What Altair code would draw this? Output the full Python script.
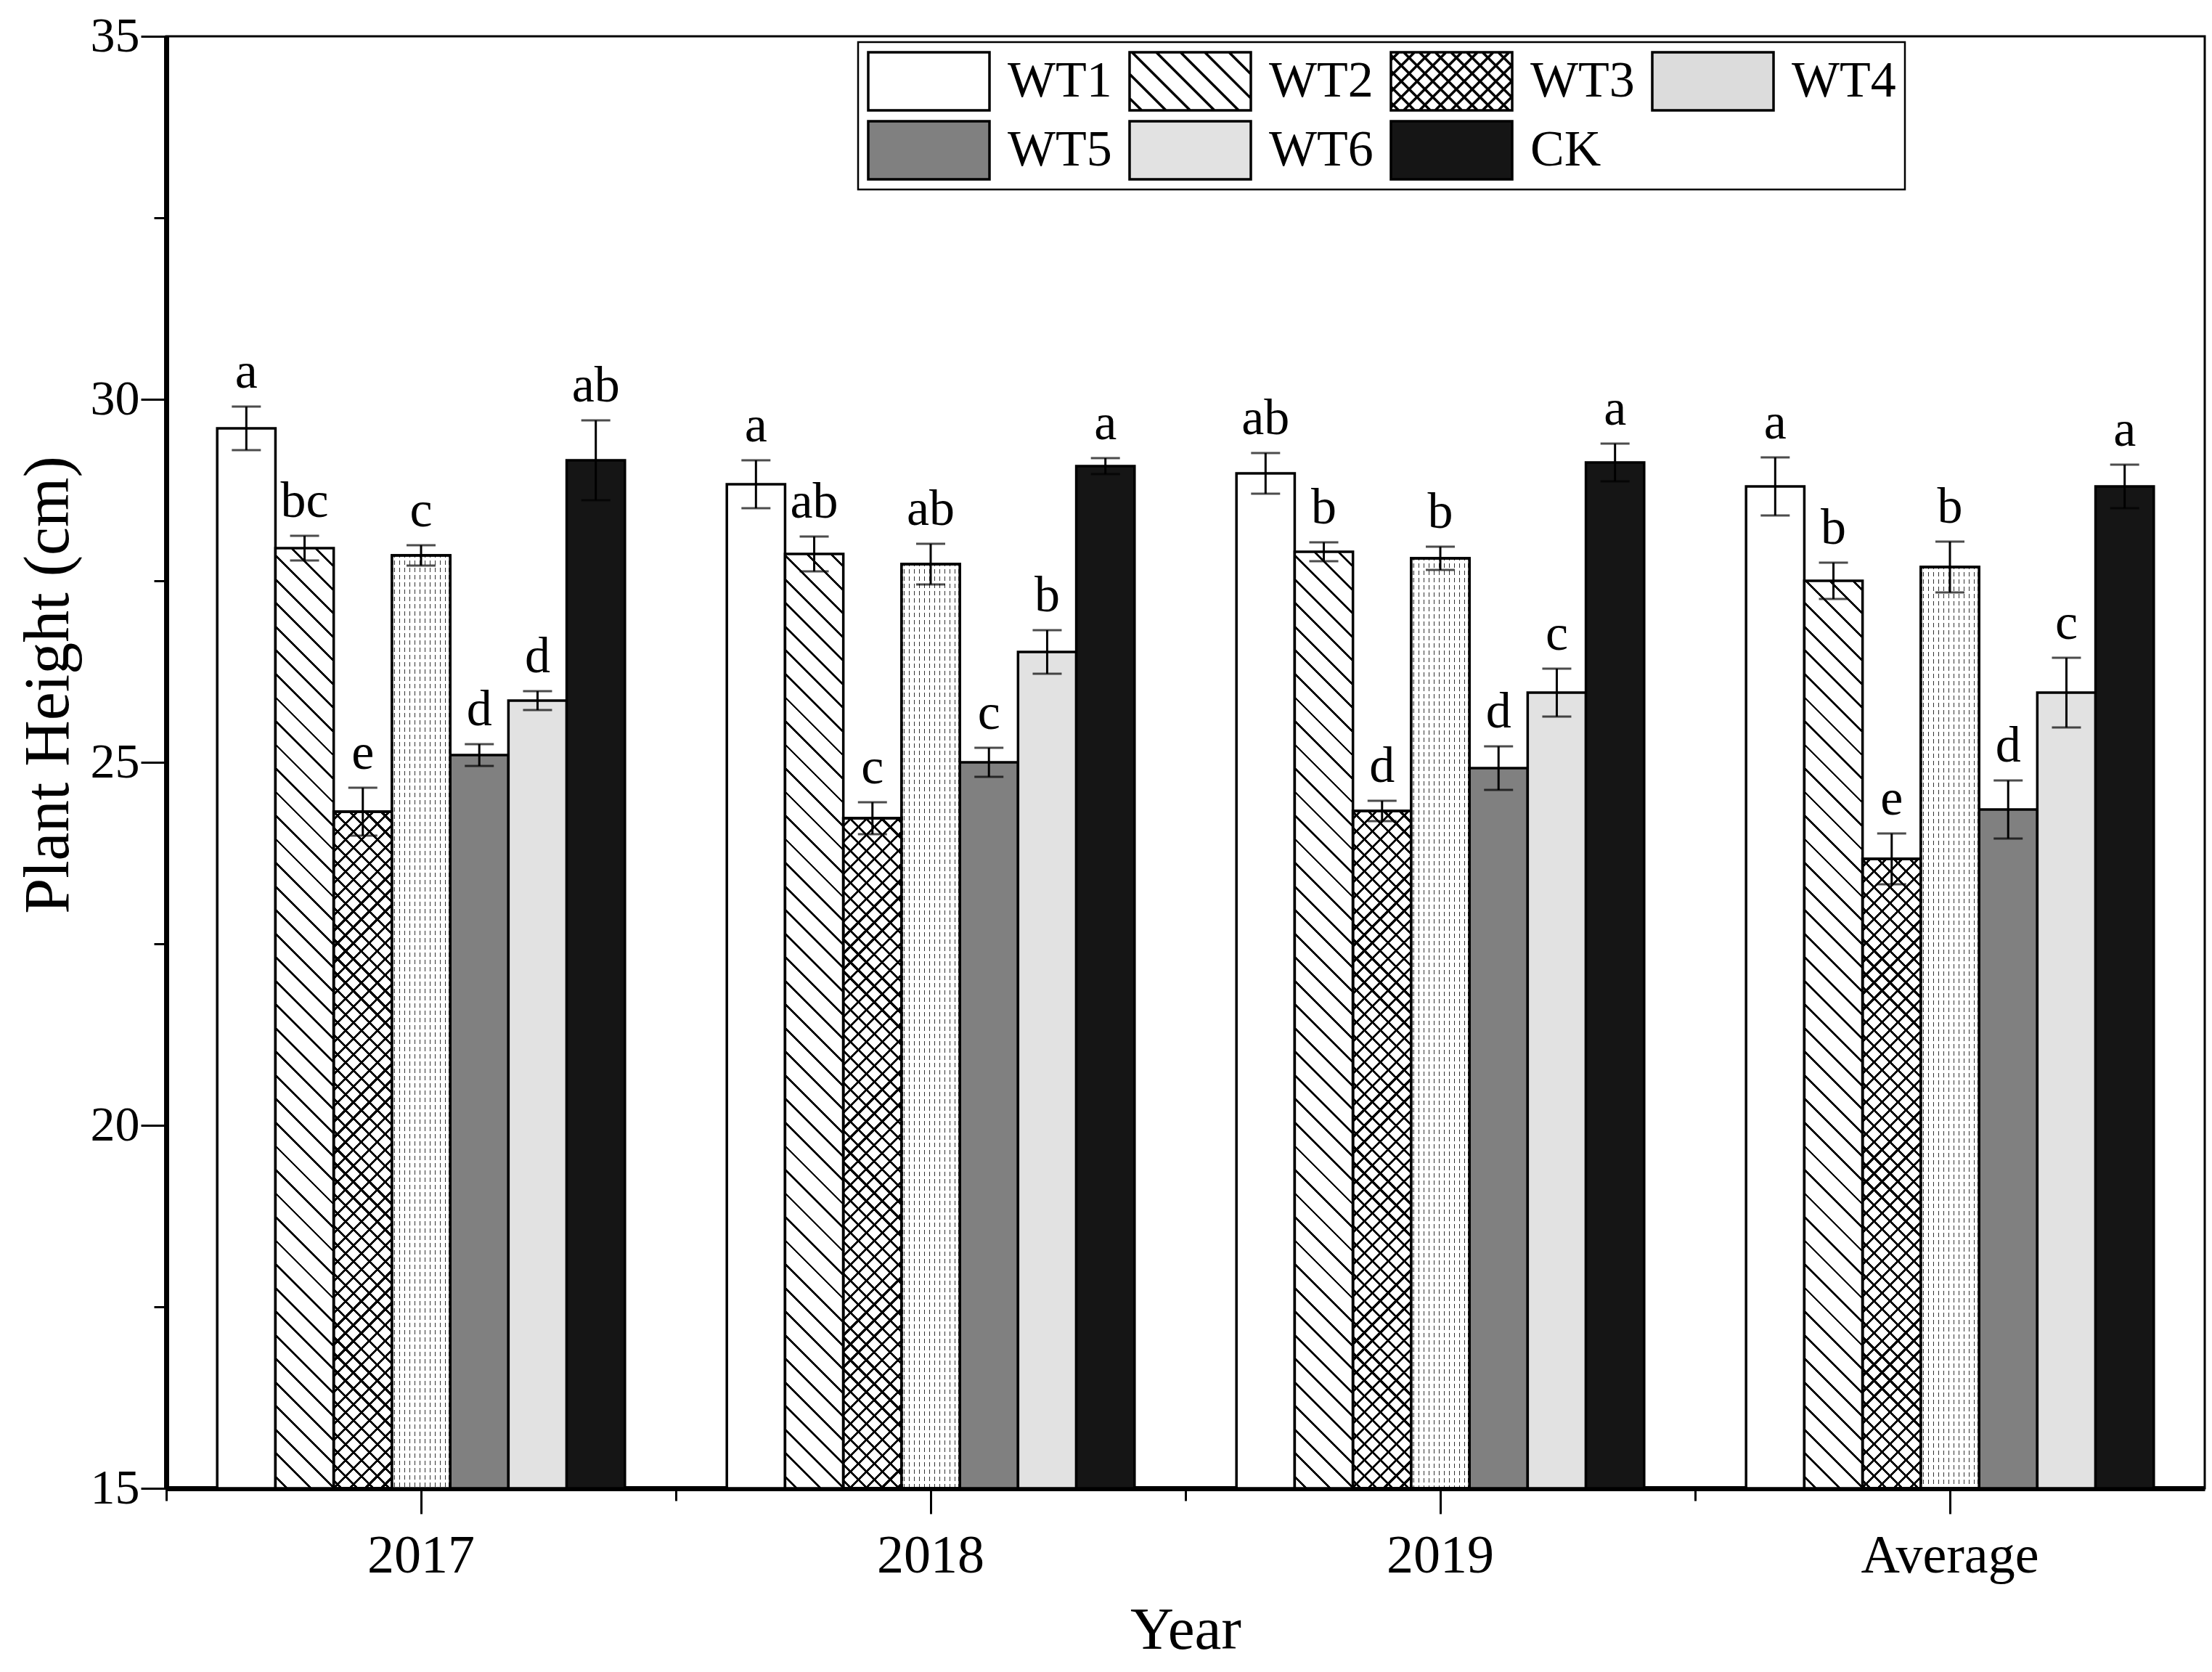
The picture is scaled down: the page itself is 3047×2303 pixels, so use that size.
import math
import altair as alt

# ---------------- data ----------------
years = ["2017", "2018", "2019", "Average"]
treatments = ["WT1", "WT2", "WT3", "WT4", "WT5", "WT6", "CK"]

height_2017 = [29.60, 27.95, 24.32, 27.85, 25.10, 25.85, 29.16]
height_2018 = [28.83, 27.87, 24.23, 27.73, 25.00, 26.52, 29.08]
height_2019 = [28.98, 27.90, 24.33, 27.81, 24.92, 25.96, 29.13]
height_avg = [28.80, 27.50, 23.67, 27.69, 24.35, 25.96, 28.80]

err_2017 = [0.30, 0.17, 0.33, 0.14, 0.15, 0.13, 0.55]
err_2018 = [0.33, 0.24, 0.22, 0.28, 0.20, 0.30, 0.11]
err_2019 = [0.28, 0.13, 0.14, 0.16, 0.30, 0.33, 0.26]
err_avg = [0.40, 0.25, 0.35, 0.35, 0.40, 0.48, 0.30]

letters_2017 = ["a", "bc", "e", "c", "d", "d", "ab"]
letters_2018 = ["a", "ab", "c", "ab", "c", "b", "a"]
letters_2019 = ["ab", "b", "d", "b", "d", "c", "a"]
letters_avg = ["a", "b", "e", "b", "d", "c", "a"]

y_major_ticks = [15, 20, 25, 30, 35]
y_minor_ticks = [17.5, 22.5, 27.5, 32.5]

heights = [height_2017, height_2018, height_2019, height_avg]
errors = [err_2017, err_2018, err_2019, err_avg]
letters = [letters_2017, letters_2018, letters_2019, letters_avg]

# ---------------- layout / style ----------------
FONT = "Liberation Serif"
PLOT_W, PLOT_H = 2808, 2000
Y_MIN, Y_MAX = 15, 35
BAR_W = PLOT_W / 4 * 0.8 / len(treatments)
PX_PER_UNIT = PLOT_H / (Y_MAX - Y_MIN)
CLEAR = "rgba(0,0,0,0)"


def stripes(n, half, bg, fg, phase=0.5):
    stops = [{"offset": 0, "color": bg}]
    k = 0
    while True:
        c = (k + phase) / n
        if c - half >= 1:
            break
        a = round(max(0.0, c - half), 5)
        b = round(min(1.0, c + half), 5)
        stops += [{"offset": a, "color": bg}, {"offset": a, "color": fg},
                  {"offset": b, "color": fg}, {"offset": b, "color": bg}]
        k += 1
    stops.append({"offset": 1, "color": bg})
    return stops


def diag_gradient(w, h, direction, spacing, thick, bg, fg):
    r = h / w
    g = (1 + r) / (1 + r * r)
    if direction == "back":
        x1, y1, x2, y2 = 0, 1, g, 1 - g * r
    else:
        x1, y1, x2, y2 = 0, 0, g, g * r
    dist = (w + h) / math.sqrt(2)
    return {"gradient": "linear", "x1": x1, "y1": y1, "x2": x2, "y2": y2,
            "stops": stripes(dist / spacing, thick / 2 / dist, bg, fg)}


def vert_lines(w, spacing, thick, bg, fg):
    return {"gradient": "linear", "x1": 0, "y1": 0, "x2": 1, "y2": 0,
            "stops": stripes(w / spacing, thick / 2 / w, bg, fg)}


def horiz_lines(h, spacing, thick, bg, fg):
    return {"gradient": "linear", "x1": 0, "y1": 0, "x2": 0, "y2": 1,
            "stops": stripes(h / spacing, thick / 2 / h, bg, fg)}


solid_fill = {"WT1": "white", "WT5": "#808080", "WT6": "#e2e2e2", "CK": "#151515"}

records = []
for yi, yr in enumerate(years):
    for ti, trt in enumerate(treatments):
        m = heights[yi][ti]
        e = errors[yi][ti]
        h = (m - Y_MIN) * PX_PER_UNIT
        fill2 = None
        if trt == "WT2":
            fill1 = diag_gradient(BAR_W, h, "back", 23, 2.7, "white", "black")
        elif trt == "WT3":
            fill1 = diag_gradient(BAR_W, h, "back", 15.5, 3.0, "white", "black")
            fill2 = diag_gradient(BAR_W, h, "fwd", 15.5, 3.0, CLEAR, "black")
        elif trt == "WT4":
            fill1 = vert_lines(BAR_W, 7, 1.7, "white", "#333333")
            fill2 = horiz_lines(h, 10, 4, CLEAR, "white")
        else:
            fill1 = solid_fill[trt]
        records.append({"year": yr, "trt": trt, "mean": m, "lo": round(m - e, 3),
                        "hi": round(m + e, 3), "letter": letters[yi][ti],
                        "fill1": fill1, "fill2": fill2})

# legend symbols (custom paths in symbol units)
HH = 0.48
RECT = f"M-1,-{HH}H1V{HH}H-1Z"


def hatch_path(spacing, direction):
    segs = []
    c = -1 - HH + spacing / 2
    while c < 1 + HH:
        if direction == "back":
            y0, y1 = max(-HH, -1 - c), min(HH, 1 - c)
            if y1 > y0:
                segs.append(f"M{y0 + c:.3f},{y0:.3f}L{y1 + c:.3f},{y1:.3f}")
        else:
            y0, y1 = max(-HH, c - 1), min(HH, c + 1)
            if y1 > y0:
                segs.append(f"M{c - y0:.3f},{y0:.3f}L{c - y1:.3f},{y1:.3f}")
        c += spacing
    return "".join(segs)


legend_paths = [RECT, RECT + hatch_path(0.4, "back"),
                RECT + hatch_path(0.26, "back") + hatch_path(0.26, "fwd"),
                RECT, RECT, RECT, RECT]
legend_fills = ["white", "white", "white", "#dcdcdc", "#808080", "#e2e2e2", "#151515"]
legend_strokes = ["black"] * len(treatments)

# ---------------- chart ----------------
data = alt.Data(values=records)
base = alt.Chart(data)

xscale = alt.Scale(domain=years, paddingInner=0.2, paddingOuter=0.1)
xoff = alt.XOffset("trt:N", scale=alt.Scale(domain=treatments, paddingInner=0, paddingOuter=0))
yscale = alt.Scale(domain=[Y_MIN, Y_MAX], zero=False, nice=False)

x_axis = alt.Axis(title="Year", orient="bottom", labelAngle=0, bandPosition=0.5,
                  tickSize=35, tickWidth=3, tickColor="black",
                  domainWidth=7, domainColor="black", grid=False,
                  labelFont=FONT, labelFontSize=74, labelColor="black", labelPadding=22,
                  labelLimit=500,
                  titleFont=FONT, titleFontSize=83, titleFontWeight="normal",
                  titleColor="black", titlePadding=24)
x_minor = alt.Axis(title=None, orient="bottom", labels=False, domain=False,
                   bandPosition=-0.125, tickSize=17, tickWidth=3, tickColor="black",
                   grid=False)
y_axis = alt.Axis(title="Plant Height (cm)", orient="left", values=y_major_ticks,
                  tickSize=35, tickWidth=3, tickColor="black",
                  domainWidth=7, domainColor="black",
                  grid=False, labelFont=FONT, labelFontSize=68, labelColor="black",
                  labelPadding=2, titleFont=FONT, titleFontSize=88,
                  titleFontWeight="normal", titleColor="black",
                  titleX=-118, titleY=893)
y_minor = alt.Axis(title=None, orient="left", values=y_minor_ticks, labels=False,
                   domain=False, tickSize=17, tickWidth=3, tickColor="black", grid=False)

bars = base.mark_bar(stroke="black", strokeWidth=3.5).encode(
    x=alt.X("year:N", scale=xscale, axis=x_axis),
    xOffset=xoff,
    y=alt.Y("mean:Q", scale=yscale, axis=y_axis),
    y2=alt.datum(Y_MIN),
    fill=alt.Fill("fill1:N", scale=None),
)

overlay = base.transform_filter("isValid(datum.fill2)").mark_bar(
    stroke="black", strokeWidth=3.5).encode(
    x=alt.X("year:N", scale=xscale, axis=None),
    xOffset=xoff,
    y=alt.Y("mean:Q", scale=yscale, axis=None),
    y2=alt.datum(Y_MIN),
    fill=alt.Fill("fill2:N", scale=None),
)

rules = base.mark_rule(color="black", strokeWidth=3).encode(
    x=alt.X("year:N", scale=xscale, axis=x_minor),
    xOffset=xoff,
    y=alt.Y("lo:Q", scale=yscale, axis=y_minor),
    y2="hi:Q",
)

cap_lo = base.mark_tick(color="black", thickness=3, size=40, orient="horizontal").encode(
    x=alt.X("year:N", scale=xscale, axis=None),
    xOffset=xoff,
    y=alt.Y("lo:Q", scale=yscale, axis=None),
)
cap_hi = base.mark_tick(color="black", thickness=3, size=40, orient="horizontal").encode(
    x=alt.X("year:N", scale=xscale, axis=None),
    xOffset=xoff,
    y=alt.Y("hi:Q", scale=yscale, axis=None),
)

texts = base.mark_text(font=FONT, fontSize=70, baseline="alphabetic", dy=-26,
                       color="black").encode(
    x=alt.X("year:N", scale=xscale, axis=None),
    xOffset=xoff,
    y=alt.Y("hi:Q", scale=yscale, axis=None),
    text="letter:N",
)

leg = alt.Legend(title=None, orient="none", legendX=953, legendY=8,
                 direction="horizontal", columns=4, gridAlign="all",
                 symbolSize=27900, symbolStrokeColor="black", symbolStrokeWidth=3.5,
                 symbolOpacity=1,
                 labelFont=FONT, labelFontSize=70, labelColor="black", labelLimit=400,
                 labelOffset=23, columnPadding=22, rowPadding=11, padding=12,
                 clipHeight=84, strokeColor="black")

legend_layer = base.mark_point(filled=True, opacity=1, size=27900,
                               strokeWidth=3.5, clip=True).encode(
    x=alt.X("year:N", scale=xscale, axis=None),
    xOffset=xoff,
    y=alt.YDatum(10, scale=yscale, axis=None),
    color=alt.Color("trt:N", scale=alt.Scale(domain=treatments, range=legend_fills), legend=leg),
    stroke=alt.Stroke("trt:N", scale=alt.Scale(domain=treatments, range=legend_strokes), legend=leg),
    shape=alt.Shape("trt:N", scale=alt.Scale(domain=treatments, range=legend_paths), legend=leg),
)

chart = alt.layer(bars, overlay, rules, cap_lo, cap_hi, texts, legend_layer).resolve_axis(
    x="independent", y="independent"
).properties(
    width=PLOT_W, height=PLOT_H,
    autosize=alt.AutoSizeParams(type="none"),
    padding={"left": 221, "top": 42, "right": 2, "bottom": 240},
).configure_view(stroke="black", strokeWidth=3).configure_legend(strokeWidth=2.5)

chart.save("out.html", embed_options={"renderer": "svg", "actions": False})
